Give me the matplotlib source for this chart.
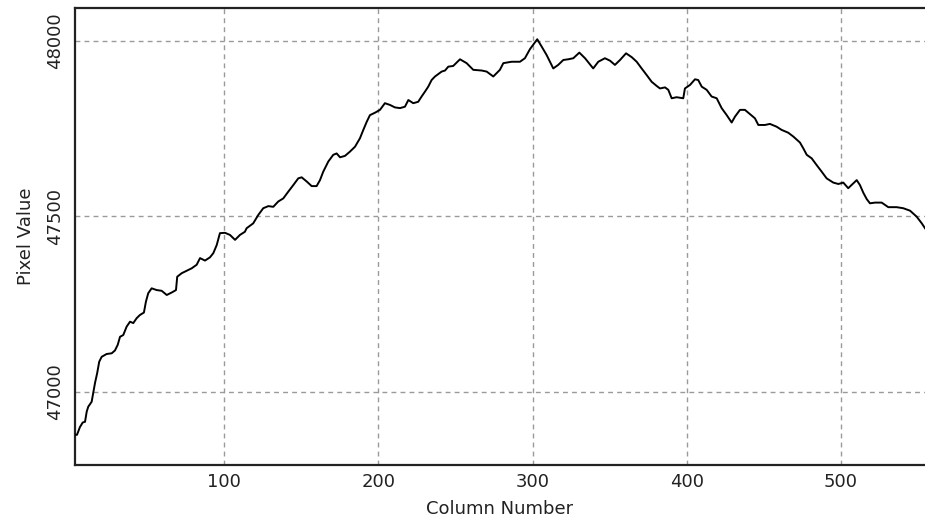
import numpy as np
import matplotlib.pyplot as plt

# profile
column = [3.6, 4.5, 6.4, 8.2, 9.7, 10.8, 11.8, 14.0, 15.0, 16.2, 17.6, 18.9, 20.5, 23.7,
          27.0, 29.1, 30.9, 32.4, 34.5, 36.7, 38.9, 41.0, 43.2, 45.3, 47.9, 49.2, 50.7,
          52.9, 56.2, 59.4, 62.7, 65.9, 68.7, 69.5, 72.4, 75.6, 78.9, 82.1, 84.3, 87.5,
          90.7, 92.9, 95.1, 97.2, 100.5, 103.7, 107.0, 110.2, 113.4, 114.5, 118.8, 122.1,
          125.3, 128.6, 131.8, 135.0, 138.3, 141.5, 144.8, 148.0, 150.2, 153.5, 156.7,
          159.9, 162.1, 164.2, 167.5, 170.7, 172.9, 175.1, 178.3, 181.5, 184.8, 188.0,
          190.2, 192.4, 194.5, 197.8, 201.0, 204.2, 207.5, 210.7, 214.0, 217.2, 219.4,
          222.6, 225.8, 228.0, 230.2, 232.3, 234.5, 236.7, 241.0, 243.2, 245.3, 248.5,
          252.9, 257.2, 261.5, 267.0, 270.2, 274.5, 278.8, 281.0, 286.4, 291.8, 295.0,
          298.3, 303.0, 305.9, 309.1, 313.4, 316.6, 319.9, 323.1, 326.4, 330.3, 334.0,
          339.3, 342.6, 346.9, 350.2, 353.4, 356.7, 360.6, 364.3, 367.5, 370.7, 374.0,
          377.2, 380.5, 382.6, 385.9, 388.0, 390.2, 393.4, 397.7, 398.8, 402.1, 405.3,
          407.4, 409.7, 412.9, 416.1, 419.4, 422.6, 425.9, 429.1, 431.3, 434.5, 437.7,
          441.0, 444.2, 446.4, 450.7, 453.9, 458.3, 461.5, 465.8, 469.1, 473.4, 475.5,
          477.8, 481.0, 484.2, 487.5, 490.7, 495.0, 498.3, 501.5, 504.7, 508.0, 510.2,
          512.3, 514.5, 516.7, 518.8, 522.1, 526.4, 530.7, 536.1, 540.4, 544.8, 549.1,
          552.4, 554.5]
pixel_value = [46878, 46878, 46900, 46913, 46915, 46944, 46958, 46972, 46996, 47026,
               47054, 47086, 47100, 47108, 47110, 47118, 47134, 47157, 47162, 47186,
               47200, 47196, 47210, 47219, 47226, 47257, 47281, 47295, 47290, 47288,
               47276, 47283, 47290, 47328, 47338, 47345, 47352, 47362, 47381, 47374,
               47383, 47395, 47418, 47452, 47453, 47447, 47433, 47447, 47456, 47466,
               47480, 47504, 47523, 47529, 47527, 47542, 47551, 47570, 47589, 47608,
               47611, 47599, 47586, 47586, 47603, 47627, 47656, 47675, 47679, 47668,
               47672, 47684, 47698, 47722, 47746, 47769, 47788, 47795, 47803, 47822,
               47817, 47810, 47808, 47812, 47831, 47822, 47826, 47841, 47855, 47869,
               47888, 47898, 47912, 47915, 47926, 47928, 47947, 47936, 47917, 47915,
               47912, 47898, 47917, 47936, 47940, 47940, 47950, 47976, 48004, 47983,
               47959, 47921, 47931, 47945, 47947, 47950, 47966, 47950, 47921, 47940,
               47950, 47943, 47931, 47945, 47964, 47953, 47940, 47921, 47902, 47883,
               47871, 47864, 47867, 47860, 47836, 47839, 47836, 47864, 47874, 47890,
               47888, 47869, 47860, 47841, 47836, 47808, 47788, 47767, 47784, 47803,
               47803, 47791, 47779, 47760, 47760, 47763, 47755, 47746, 47738, 47727,
               47710, 47694, 47675, 47665, 47646, 47627, 47608, 47596, 47592, 47596,
               47580, 47594, 47603, 47589, 47567, 47549, 47537, 47539, 47539, 47526,
               47526, 47523, 47516, 47499, 47480, 47466]

x_ticks = [100, 200, 300, 400, 500]
y_ticks = [47000, 47500, 48000]

fig = plt.figure(figsize=(9.25, 5.23), dpi=100)
ax = fig.add_axes([75 / 925, 58 / 523, 850 / 925, 457 / 523])

ax.plot(column, pixel_value, color='black', lw=1.4, zorder=3)

ax.set_xlim(3.2, 554.5)
ax.set_ylim(46792, 48093)
ax.set_xticks(x_ticks)
ax.set_yticks(y_ticks)

# dashed grey grid like the original viewer
ax.grid(True, color='#9a9a9a', linestyle=(0, (3.5, 3)), lw=1.0)

for side in ['left', 'top', 'bottom']:
    ax.spines[side].set_color('#222222')
    ax.spines[side].set_linewidth(1.6)
ax.spines['right'].set_visible(False)

ax.tick_params(axis='both', length=0, labelsize=13, labelcolor='#222222')
ax.tick_params(axis='x', pad=6)
ax.tick_params(axis='y', pad=8, labelrotation=90)
for lab in ax.get_yticklabels():
    lab.set_va('center')

ax.set_xlabel('Column Number', fontsize=13, color='#222222', labelpad=6)
ax.set_ylabel('Pixel Value', fontsize=13, color='#222222', labelpad=8)

fig.savefig('out.png', dpi=100)
